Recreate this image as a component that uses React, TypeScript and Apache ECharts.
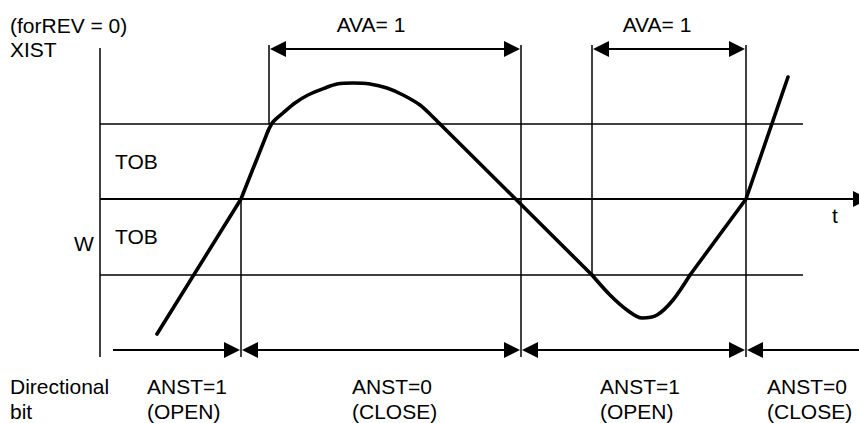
import React, { useEffect, useRef } from "react";
import * as echarts from "echarts";

// Time axis (t) and controlled value (XIST) in diagram units
const curveT = [57, 141, 168, 173, 183, 195, 208, 225, 237, 253, 270, 287, 303, 320, 333, 340, 492, 510, 527, 542, 557, 573, 590, 646, 688];
const curveV = [-135, 0, 68, 77, 86, 96, 104, 111, 115, 116, 115, 111, 104, 94, 82, 75, -76, -96, -111, -119, -116, -101, -76, 0, 122];

const levelW = 0;
const levelTOBHigh = 75;
const levelTOBLow = -76;

// switching instants (t)
const switchT = [141, 169, 421, 492, 646];

const topLabels = ["AVA= 1", "AVA= 1"];
const bottomLabels = ["ANST=1\n(OPEN)", "ANST=0\n(CLOSE)", "ANST=1\n(OPEN)", "ANST=0\n(CLOSE)"];

export default function App() {
  const ref = useRef<HTMLDivElement>(null);
  useEffect(() => {
    if (!ref.current) return;
    const chart = echarts.init(ref.current, null, { renderer: "svg" });

    const X_MIN = -100, X_MAX = 759, Y_MIN = -224, Y_MAX = 199;
    const HEAD = 16;
    const half = HEAD / 2 + 1;
    const topV = 154, bottomV = -158, arrowTopV = 150, arrowBotV = -151;
    const levelEnd = 703;
    const startBottom = 13;

    const [tA, tB, tC, tD, tE] = switchT;

    const thin = [
      { coords: [[0, levelTOBHigh], [levelEnd, levelTOBHigh]] },
      { coords: [[0, levelTOBLow], [levelEnd, levelTOBLow]] },
      { coords: [[0, 151], [0, bottomV]] },
      { coords: [[tA, levelW], [tA, bottomV]] },
      { coords: [[tB, topV], [tB, levelTOBHigh]] },
      { coords: [[tC, topV], [tC, bottomV]] },
      { coords: [[tD, topV], [tD, levelTOBLow]] },
      { coords: [[tE, topV], [tE, bottomV]] },
    ];

    const both = [
      { coords: [[tB + half, arrowTopV], [tC - half, arrowTopV]] },
      { coords: [[tD + half, arrowTopV], [tE - half, arrowTopV]] },
      { coords: [[tA + half, arrowBotV], [tC - half, arrowBotV]] },
      { coords: [[tC + half, arrowBotV], [tE - half, arrowBotV]] },
    ];
    const endOnly = [
      { coords: [[startBottom, arrowBotV], [tA - half, arrowBotV]] },
      { coords: [[0, levelW], [X_MAX + 2, levelW]] },
    ];
    const startOnly = [
      { coords: [[tE + half, arrowBotV], [X_MAX + 1, arrowBotV]] },
    ];

    const font = '21px "Liberation Sans", Arial, sans-serif';
    const txt = (text: string, x: number, y: number, align = "left", lh = 25) => ({
      type: "text",
      x,
      y,
      silent: true,
      style: { text, x: 0, y: 0, font, fill: "#000", align, verticalAlign: "middle", lineHeight: lh },
    });

    const lineSeries = (data: any[], symbol: string[], width: number) => ({
      type: "lines",
      coordinateSystem: "cartesian2d",
      polyline: false,
      silent: true,
      symbol,
      symbolSize: [16, HEAD],
      lineStyle: { color: "#000", width, opacity: 1, curveness: 0 },
      itemStyle: { color: "#000" },
      data,
    });

    // curve pieces: [from index, to index, smooth]
    const pieces: [number, number, number][] = [
      [0, 2, 0],
      [2, 15, 0.3],
      [15, 16, 0],
      [16, 22, 0.3],
      [22, 24, 0],
    ];
    const curveSeries = pieces.map(([a, b, s]) => ({
      type: "line",
      silent: true,
      showSymbol: false,
      smooth: s,
      lineStyle: { color: "#000", width: 3.6, join: "round", cap: "round" },
      data: curveT.slice(a, b + 1).map((t, i) => [t, curveV[a + i]]),
      z: 5,
    }));

    chart.setOption({
      animation: false,
      backgroundColor: "#fff",
      grid: { left: 0, right: 0, top: 0, bottom: 0, containLabel: false },
      xAxis: { type: "value", min: X_MIN, max: X_MAX, show: false },
      yAxis: { type: "value", min: Y_MIN, max: Y_MAX, show: false },
      series: [
        lineSeries(thin, ["none", "none"], 1.5),
        lineSeries(both, ["triangle", "triangle"], 1.8),
        lineSeries(endOnly, ["none", "triangle"], 1.8),
        lineSeries(startOnly, ["triangle", "none"], 1.8),
        ...curveSeries,
      ],
      graphic: [
        txt("(forREV = 0)", 10, 25),
        txt("XIST", 10, 49),
        txt(topLabels[0], 371, 24, "center"),
        txt(topLabels[1], 657, 24, "center"),
        txt("TOB", 115, 161),
        txt("TOB", 115, 236),
        txt("W", 74, 243),
        txt("t", 832, 215),
        txt("Directional\nbit", 10, 398.5),
        txt(bottomLabels[0], 147, 398.5),
        txt(bottomLabels[1], 352, 398.5),
        txt(bottomLabels[2], 600, 398.5),
        txt(bottomLabels[3], 767, 398.5),
      ],
    });
    return () => chart.dispose();
  }, []);
  return (
    <div
      ref={ref}
      style={{ position: "absolute", left: 0, top: 0, width: 859, height: 423, background: "#fff" }}
    />
  );
}
